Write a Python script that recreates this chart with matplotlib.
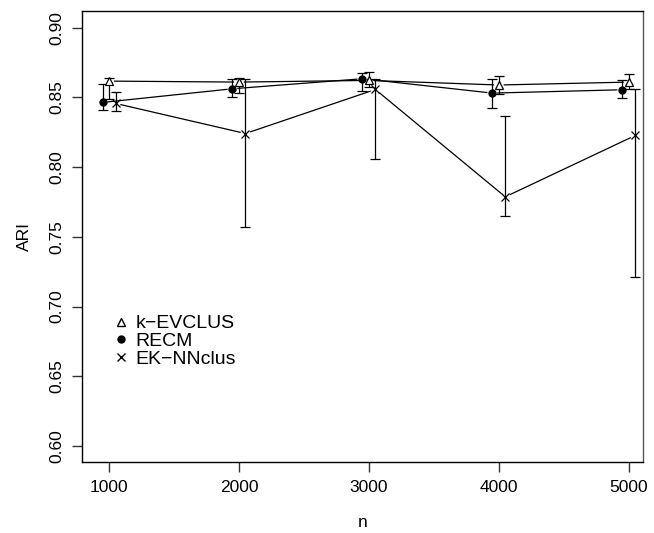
import numpy as np
import matplotlib
matplotlib.use("Agg")
import matplotlib.pyplot as plt
from matplotlib.lines import Line2D

plt.rcParams['font.family'] = ['Liberation Sans', 'DejaVu Sans']

n = np.array([1000, 2000, 3000, 4000, 5000])
shift = 50

# k-EVCLUS
kev_mean = [0.8617, 0.8610, 0.8622, 0.8589, 0.8610]
kev_lo = [0.8486, 0.8529, 0.8577, 0.8522, 0.8562]
kev_hi = [0.8636, 0.8639, 0.8685, 0.8653, 0.8668]

# RECM
recm_mean = [0.8464, 0.8562, 0.8634, 0.8531, 0.8555]
recm_lo = [0.8407, 0.8502, 0.8546, 0.8423, 0.8495]
recm_hi = [0.8598, 0.8634, 0.8672, 0.8634, 0.8622]

# EK-NNclus
ek_mean = [0.8457, 0.8241, 0.8557, 0.7787, 0.8227]
ek_lo = [0.8402, 0.7572, 0.8055, 0.7648, 0.7213]
ek_hi = [0.8538, 0.8630, 0.8634, 0.8369, 0.8562]

labels = ["k\u2212EVCLUS", "RECM", "EK\u2212NNclus"]


def yerr(m, lo, hi):
    m = np.array(m)
    return [m - np.array(lo), np.array(hi) - m]


def gap_line(ax, x, y, gap=5.5):
    # R type="b": segments stop short of the points
    pts = ax.transData.transform(np.column_stack([x, y]))
    for (x0, y0), (x1, y1) in zip(pts[:-1], pts[1:]):
        d = np.hypot(x1 - x0, y1 - y0)
        if d <= 2 * gap:
            continue
        ux, uy = (x1 - x0) / d, (y1 - y0) / d
        ax.add_line(Line2D([x0 + ux * gap, x1 - ux * gap],
                           [y0 + uy * gap, y1 - uy * gap],
                           transform=None, color="black", lw=0.9))


fig = plt.figure(figsize=(6.54, 5.33), dpi=100)
ax = fig.add_axes([0.1254, 0.1332, 0.9832 - 0.1254, 0.9794 - 0.1332])
ax.set_xlim(792, 5110)
ax.set_ylim(0.5885, 0.912)

eb = dict(color="black", ls="none", capsize=3.3, capthick=0.9, elinewidth=0.9)

ax.errorbar(n, kev_mean, yerr=yerr(kev_mean, kev_lo, kev_hi), marker="^",
            ms=6, mfc="white", mec="black", mew=0.9, **eb)
ax.errorbar(n - shift, recm_mean, yerr=yerr(recm_mean, recm_lo, recm_hi),
            marker="o", ms=5, mfc="black", mec="black", **eb)
ax.errorbar(n + shift, ek_mean, yerr=yerr(ek_mean, ek_lo, ek_hi), marker="x",
            ms=5.5, mew=0.9, **eb)

gap_line(ax, n, kev_mean)
gap_line(ax, n - shift, recm_mean)
gap_line(ax, n + shift, ek_mean)

ax.set_xticks(n)
ax.set_yticks([0.60, 0.65, 0.70, 0.75, 0.80, 0.85, 0.90])
ax.set_yticklabels(["0.60", "0.65", "0.70", "0.75", "0.80", "0.85", "0.90"],
                   rotation=90, va="center")
ax.tick_params(labelsize=12.5, length=7, width=1.0, color="#333333", pad=6)
for s in ax.spines.values():
    s.set_linewidth(1.0)
ax.spines["right"].set_color("#555555")

ax.set_xlabel("n", fontsize=12.5, labelpad=14)
ax.set_ylabel("ARI", fontsize=12.5, labelpad=12)

handles = [Line2D([], [], ls="none", marker="^", ms=6, mfc="white", mec="black"),
           Line2D([], [], ls="none", marker="o", ms=5, mfc="black", mec="black"),
           Line2D([], [], ls="none", marker="x", ms=5.5, mec="black")]
ax.legend(handles, labels, loc="upper left", bbox_to_anchor=(0.035, 0.348),
          frameon=False, fontsize=14, handletextpad=0.25, labelspacing=0.0,
          handlelength=1.0, borderpad=0)

fig.savefig("out.png", dpi=100)
